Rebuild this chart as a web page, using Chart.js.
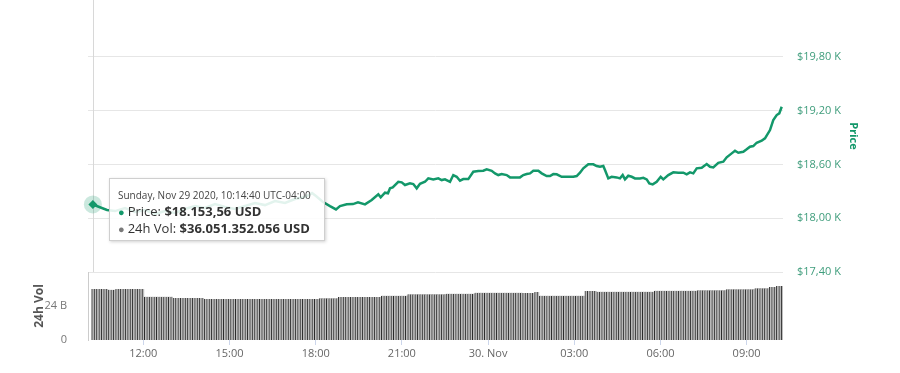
<!DOCTYPE html>
<html>
<head>
<meta charset="utf-8">
<script src="https://cdn.jsdelivr.net/npm/chart.js@4.4.1/dist/chart.umd.min.js"></script>
<style>
html,body{margin:0;padding:0;background:#fff;}
#wrap{position:relative;width:900px;height:373px;overflow:hidden;}
#tip{position:absolute;display:none;pointer-events:none;box-sizing:border-box;width:216px;height:63px;
  background:rgba(255,255,255,0.88);border:1px solid #cfcfcf;box-shadow:1px 1px 3px rgba(0,0,0,0.18);
  font-family:'Open Sans',sans-serif;color:#333;padding:9px 4px 0 8px;white-space:nowrap;}
#tip .tt{font-size:10px;line-height:15px;color:#444;}
#tip .tr{font-size:13px;line-height:16px;color:#333;}
#tip .d{font-size:11px;margin-right:3px;}
</style>
</head>
<body>
<div id="wrap">
<canvas id="c" width="900" height="373"></canvas>
<div id="tip"></div>
</div>
<script>
// ---- data ----
const priceHours = [10.244,10.736,11.015,11.363,11.711,12.059,12.407,12.755,13.103,13.451,
13.8,14.148,14.496,14.844,15.192,15.54,15.888,16.236,16.584,16.932,
17.28,17.628,17.872,18.011,18.244,18.498,18.707,18.846,19.08,19.299,
19.473,19.717,19.95,20.18,20.263,20.413,20.517,20.587,20.681,20.876,
20.994,21.109,21.283,21.398,21.516,21.631,21.805,21.92,22.094,22.268,
22.386,22.501,22.675,22.79,22.908,23.023,23.138,23.312,23.486,23.66,
23.834,23.953,24.127,24.242,24.356,24.475,24.649,24.764,24.938,25.112,
25.227,25.345,25.46,25.575,25.749,25.867,26.041,26.156,26.271,26.389,
26.563,26.737,26.967,27.085,27.2,27.315,27.489,27.663,27.781,27.896,
28.011,28.07,28.185,28.303,28.477,28.592,28.686,28.766,28.881,29.0,
29.114,29.288,29.403,29.522,29.612,29.731,29.87,30.009,30.1,30.274,
30.448,30.622,30.796,30.914,31.029,31.144,31.262,31.436,31.61,31.725,
31.84,32.014,32.188,32.306,32.48,32.595,32.71,32.884,33.002,33.117,
33.232,33.35,33.524,33.639,33.814,33.928,34.047,34.137,34.221];

const priceValues = [18153.56,18092,18080,18114,18069,18092,18047,18080,18058,18103,
18136,18114,18158,18125,18103,18136,18170,18147,18192,18170,
18214,18237,18281,18248,18184,18136,18099,18136,18155,18158,
18177,18155,18203,18267,18233,18285,18278,18334,18345,18407,
18401,18371,18389,18382,18334,18385,18407,18445,18434,18445,
18426,18434,18407,18482,18463,18419,18437,18437,18519,18527,
18530,18546,18530,18501,18482,18493,18482,18456,18456,18456,
18482,18493,18501,18530,18530,18501,18471,18471,18493,18490,
18463,18463,18463,18471,18508,18557,18602,18602,18583,18575,
18583,18538,18445,18463,18456,18445,18482,18434,18474,18463,
18445,18445,18452,18434,18389,18378,18407,18463,18434,18482,
18512,18508,18508,18490,18512,18501,18557,18564,18605,18575,
18568,18619,18631,18680,18724,18753,18731,18742,18769,18798,
18806,18843,18865,18892,18984,19096,19152,19171,19244];

// 24h volume in billions USD, one bar every 5 minutes
const volValues = [
36.05,36.05,36.05,36.05,36.05,36.05,36.05,35.4,35.4,35.4,
36.0,36.0,36.0,36.0,36.0,36.0,36.0,36.0,36.0,36.0,36.0,36.0,
30.6,30.6,30.6,30.6,30.6,30.6,30.6,30.6,30.6,30.6,30.6,30.6,
29.6,29.6,29.6,29.6,29.6,29.6,29.6,29.6,29.6,29.6,29.6,29.6,29.6,
28.9,28.9,28.9,28.9,28.9,28.9,28.9,28.9,28.9,28.9,28.9,28.9,
28.9,28.9,28.9,28.9,28.9,28.9,28.9,28.9,28.9,28.9,28.9,28.9,
28.9,28.9,28.9,28.9,28.9,28.9,28.9,28.9,28.9,28.9,28.9,28.9,
28.9,28.9,28.9,28.9,28.9,28.9,28.9,28.9,28.9,28.9,28.9,28.9,
29.4,29.4,29.4,29.4,29.4,29.4,29.4,29.4,
30.4,30.4,30.4,30.4,30.4,30.4,30.4,30.4,30.4,30.4,30.4,30.4,30.4,30.4,30.4,30.4,30.4,30.4,
31.3,31.3,31.3,31.3,31.3,31.3,31.3,31.3,31.3,31.3,31.3,
32.3,32.3,32.3,32.3,32.3,32.3,32.3,32.3,32.3,32.3,32.3,32.3,32.3,32.3,32.3,32.3,
32.7,32.7,32.7,32.7,32.7,32.7,32.7,32.7,32.7,32.7,32.7,32.7,
33.4,33.4,33.4,33.4,33.4,33.4,33.4,33.4,33.4,33.4,33.4,33.4,33.4,33.4,33.4,33.4,33.4,33.4,33.4,33.4,
33.2,33.2,33.2,33.2,33.2,33.9,33.9,
31.3,31.3,31.3,31.3,31.3,31.3,31.3,31.3,31.3,31.3,31.3,31.3,31.3,31.3,31.3,31.3,31.3,31.3,31.3,
34.6,34.6,34.6,34.6,34.6,
34.1,34.1,34.1,34.1,34.1,34.1,34.1,34.1,34.1,34.1,34.1,34.1,
34.1,34.1,34.1,34.1,34.1,34.1,34.1,34.1,34.1,34.1,34.1,34.1,
34.8,34.8,34.8,34.8,34.8,34.8,34.8,34.8,34.8,34.8,34.8,34.8,34.8,34.8,34.8,34.8,34.8,34.8,
35.1,35.1,35.1,35.1,35.1,35.1,35.1,35.1,35.1,35.1,35.1,35.1,
35.8,35.8,35.8,35.8,35.8,35.8,35.8,35.8,35.8,35.8,35.8,35.8,
36.5,36.5,36.5,36.5,36.5,36.5,
37.4,37.4,37.4,38.1,38.1,38.1];
const volStartHour = 10.2444;   // 10:14:40, Nov 29
const volStepHours = 5 / 60;

const xTickHours  = [12, 15, 18, 21, 24, 27, 30, 33];
const xTickLabels = ['12:00', '15:00', '18:00', '21:00', '30. Nov', '03:00', '06:00', '09:00'];
const priceTicks      = [17400, 18000, 18600, 19200, 19800];
const priceTickLabels = ['$17,40 K', '$18,00 K', '$18,60 K', '$19,20 K', '$19,80 K'];
const volTicks      = [0, 24];
const volTickLabels = ['0', '24 B'];

const tooltipTitle  = 'Sunday, Nov 29 2020, 10:14:40 UTC-04:00';
const tooltipVolume = 36051352056;

// ---- helpers ----
function fmtDE(v, dec) {
  const parts = v.toFixed(dec).split('.');
  const int = parts[0].replace(/\B(?=(\d{3})+(?!\d))/g, '.');
  return parts.length > 1 ? int + ',' + parts[1] : int;
}

const GREEN = '#13986a';
Chart.defaults.font.family = "'Open Sans', sans-serif";

const crosshair = {
  id: 'crosshair',
  beforeDatasetsDraw(chart) {
    const xs = chart.scales.x, yp = chart.scales.yPrice;
    const x = Math.round(xs.getPixelForValue(priceHours[0])) + 0.5;
    const ctx = chart.ctx;
    ctx.save();
    ctx.strokeStyle = '#d8d8d8';
    ctx.lineWidth = 1;
    ctx.beginPath();
    ctx.moveTo(x, yp.top);
    ctx.lineTo(x, yp.bottom);
    ctx.stroke();
    ctx.restore();
  }
};

function externalTip(context) {
  const tip = document.getElementById('tip');
  const t = context.tooltip;
  if (!t || t.opacity === 0 || !t.dataPoints || !t.dataPoints.length) { tip.style.display = 'none'; return; }
  const i = t.dataPoints[0].dataIndex;
  tip.innerHTML =
    '<div class="tt">' + tooltipTitle + '</div>' +
    '<div class="tr"><span class="d" style="color:' + GREEN + '">&#9679;</span>Price: <b>$' + fmtDE(priceValues[i], 2) + ' USD</b></div>' +
    '<div class="tr"><span class="d" style="color:#7a7a7a">&#9679;</span>24h Vol: <b>$' + fmtDE(tooltipVolume, 0) + ' USD</b></div>';
  tip.style.left = Math.round(t.caretX + 16) + 'px';
  tip.style.top = Math.round(t.caretY - 26) + 'px';
  tip.style.display = 'block';
}

const chart = new Chart(document.getElementById('c'), {
  type: 'line',
  data: {
    datasets: [
      {
        label: 'Price',
        data: priceHours.map((h, i) => ({x: h, y: priceValues[i]})),
        yAxisID: 'yPrice',
        borderColor: GREEN,
        borderWidth: 2.5,
        tension: 0,
        pointStyle: 'rectRot',
        pointRadius: ctx => ctx.dataIndex === 0 ? 4.5 : 0,
        pointHoverRadius: ctx => ctx.dataIndex === 0 ? 4.5 : 0,
        pointBackgroundColor: GREEN,
        pointBorderWidth: 0,
        clip: false,
        order: 0
      },
      {
        label: 'halo',
        data: [{x: priceHours[0], y: priceValues[0]}],
        yAxisID: 'yPrice',
        showLine: false,
        pointRadius: 9,
        pointHoverRadius: 9,
        pointBackgroundColor: 'rgba(19,152,106,0.22)',
        pointBorderWidth: 0,
        clip: false,
        order: 1
      },
      {
        type: 'bar',
        label: '24h Vol',
        data: volValues.map((v, i) => ({x: volStartHour + i * volStepHours, y: v})),
        yAxisID: 'yVol',
        backgroundColor: '#bdbdbd',
        borderColor: '#2a2a2a',
        borderWidth: {left: 1, right: 0, top: 0, bottom: 0},
        borderSkipped: false,
        barPercentage: 1,
        categoryPercentage: 1,
        order: 2
      }
    ]
  },
  options: {
    responsive: false,
    animation: false,
    events: [],
    devicePixelRatio: 1,
    layout: {padding: 0, autoPadding: false},
    plugins: {
      legend: {display: false},
      tooltip: {enabled: false, external: externalTip}
    },
    scales: {
      x: {
        type: 'linear',
        offset: false,
        min: 10.075,
        max: 34.266,
        afterBuildTicks: s => { s.ticks = xTickHours.map(v => ({value: v})); },
        afterFit: s => { s.height = 33; s.paddingLeft = 0; s.paddingRight = 0; },
        ticks: {
          autoSkip: false, maxRotation: 0, padding: 2, color: '#666', font: {size: 11},
          callback: v => xTickLabels[xTickHours.indexOf(v)]
        },
        grid: {offset: false, drawOnChartArea: false, drawTicks: true, tickLength: 5, color: '#ccd6eb'},
        border: {display: false}
      },
      yPrice: {
        position: 'right',
        stack: 'right',
        stackWeight: 4,
        min: 17400,
        max: 20436,
        afterBuildTicks: s => { s.ticks = priceTicks.map(v => ({value: v})); },
        afterFit: s => { s.width = 117; s.paddingTop = 0; s.paddingBottom = 0; },
        ticks: {
          padding: 14, color: '#3f9d7c', font: {size: 11},
          callback: v => priceTickLabels[priceTicks.indexOf(v)]
        },
        grid: {color: '#e6e6e6', drawTicks: false},
        border: {display: false},
        title: {display: true, text: 'Price', color: GREEN, font: {size: 11, weight: 'bold'}, padding: {top: 40, bottom: 0}}
      },
      yVolR: {position: 'right', stack: 'right', stackWeight: 1, display: false, min: 0, max: 1},
      yVol: {
        position: 'left',
        stack: 'left',
        stackWeight: 1,
        min: 0,
        max: 48,
        afterBuildTicks: s => { s.ticks = volTicks.map(v => ({value: v})); },
        afterFit: s => { s.width = 88; s.paddingTop = 0; s.paddingBottom = 0; },
        ticks: {
          padding: 13, color: '#777', font: {size: 11},
          callback: v => volTickLabels[volTicks.indexOf(v)]
        },
        grid: {display: false},
        border: {display: true, color: '#cccccc'},
        title: {display: true, text: '24h Vol', color: '#555', font: {size: 12, weight: 'bold'}, padding: {top: 32, bottom: 0}}
      },
      yPriceL: {position: 'left', stack: 'left', stackWeight: 4, display: false, min: 0, max: 1}
    }
  },
  plugins: [crosshair]
});

chart.tooltip.setActiveElements([{datasetIndex: 0, index: 0}],
  {x: chart.scales.x.getPixelForValue(priceHours[0]), y: chart.scales.yPrice.getPixelForValue(priceValues[0])});
chart.update();
</script>
</body>
</html>
